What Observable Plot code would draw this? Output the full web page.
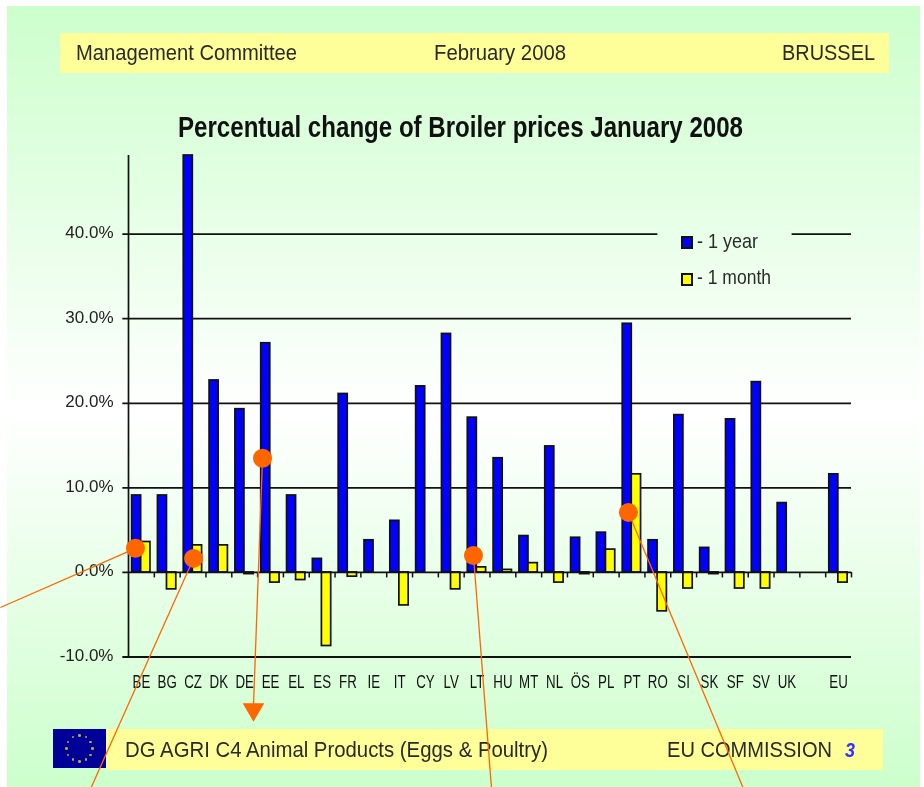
<!DOCTYPE html>
<html>
<head>
<meta charset="utf-8">
<script src="https://cdn.jsdelivr.net/npm/d3@7"></script>
<script src="https://cdn.jsdelivr.net/npm/@observablehq/plot@0.6"></script>
<style>
html,body{margin:0;padding:0;background:#fff;width:924px;height:787px;overflow:hidden;font-family:"Liberation Sans",Arial,sans-serif}
#slide{position:absolute;left:7px;top:6px;width:913px;height:781px;background:linear-gradient(#ccffcc 0%,#ffffff 52%,#ccffcc 100%)}
.band{position:absolute;background:#ffff99}
.t{position:absolute;white-space:nowrap;transform-origin:0 50%;color:#2a2a2a;filter:blur(.45px)}
#chart{position:absolute;left:0;top:0}
#chart svg{display:block;filter:blur(.45px)}
.key{position:absolute;width:8px;height:9px;border:2px solid #111;filter:blur(.4px)}
#flag{position:absolute;left:53px;top:729px;width:53px;height:39px;background:#000099}
.star{position:absolute;width:2.5px;height:2.5px;border-radius:50%;background:#b8a83a}
</style>
</head>
<body>
<div id="slide"></div>
<div class="band" style="left:60px;top:33px;width:829px;height:40px"></div>
<div class="band" style="left:106px;top:729px;width:777px;height:41px"></div>
<div id="flag"></div>
<div id="texts"></div>
<div class="key" style="left:681px;top:236px;background:#0000ff"></div>
<div class="key" style="left:681px;top:273px;background:#ffff00"></div>
<div id="chart"></div>
<script>
const codes = ["BE","BG","CZ","DK","DE","EE","EL","ES","FR","IE","IT","CY","LV","LT","HU","MT","NL","ÖS","PL","PT","RO","SI","SK","SF","SV","UK","","EU"];
const yearChange = [9.1,9.1,49.3,22.7,19.3,27.1,9.1,1.6,21.1,3.8,6.1,22,28.2,18.3,13.5,4.3,14.9,4.1,4.7,29.4,3.8,18.6,2.9,18.1,22.5,8.2,null,11.6];
const monthChange = [3.6,-2,3.2,3.2,-0.2,-1.2,-0.9,-8.7,-0.5,null,-3.9,null,-2,0.6,0.3,1.1,-1.2,-0.2,2.7,11.6,-4.6,-1.9,-0.2,-1.9,-1.9,null,null,-1.2];
const yTicks = [-10,0,10,20,30,40];
const title = "Percentual change of Broiler prices January 2008";

// annotation callouts, in chart units (category slot, percent)
const calloutFromX = [0.27,2.52,5.19,13.36,19.36];
const calloutFromY = [2.85,1.66,13.5,2.0,7.1];
const calloutToX = [-4.96,-1.47,4.84,14.06,23.82];
const calloutToY = [-4.15,-25.6,-15.8,-25.6,-25.6];

const rows = codes.map((c,i)=>({c,i,year:yearChange[i],month:monthChange[i]}));
const gridSegs = [
  {y:40,a:-0.22,b:20.5},{y:40,a:25.7,b:28},
  {y:30,a:-0.22,b:28},{y:20,a:-0.22,b:28},{y:10,a:-0.22,b:28},{y:-10,a:-0.22,b:28}
];

const plot = Plot.plot({
  width:924,height:787,
  marginLeft:128,marginRight:73,marginTop:155,marginBottom:130,
  style:{background:"transparent",fontFamily:'"Liberation Sans",Arial,sans-serif',color:"#222"},
  x:{domain:[0,28],range:[128,851]},
  y:{domain:[-10,49.3],range:[656.5,155]},
  marks:[
    Plot.ruleY(gridSegs,{y:"y",x1:"a",x2:"b",stroke:"#111",strokeWidth:1.8}),
    Plot.ruleX([0],{y1:-10,y2:49.3,stroke:"#111",strokeWidth:1.7}),
    Plot.rectY(rows.filter(d=>d.year!=null),{x1:d=>d.i+0.14,x2:d=>d.i+0.49,y1:0,y2:"year",fill:"#0000ff",stroke:"#111",strokeWidth:1.7}),
    Plot.rectY(rows.filter(d=>d.month!=null),{x1:d=>d.i+0.49,x2:d=>d.i+0.85,y1:0,y2:"month",fill:"#ffff00",stroke:"#111",strokeWidth:1.7}),
    Plot.ruleY([{y:0,a:-0.22,b:28}],{y:"y",x1:"a",x2:"b",stroke:"#111",strokeWidth:1.8}),
    Plot.ruleX(d3.range(1,29),{x:d=>d,y1:0,y2:-0.65,stroke:"#111",strokeWidth:1.5}),
    Plot.axisY({ticks:yTicks,tickSize:0,tickPadding:15,tickFormat:d=>d.toFixed(1)+"%",fontSize:17,dy:-1.5,label:null}),
    Plot.axisX({ticks:rows.map(d=>d.i+0.5),tickSize:0,tickPadding:18,tickFormat:d=>codes[d-0.5],fontSize:18,label:null,className:"xlabels"}),
    Plot.link(calloutFromX.map((x,i)=>i),{x1:i=>calloutFromX[i],y1:i=>calloutFromY[i],x2:i=>calloutToX[i],y2:i=>calloutToY[i],stroke:"#ff6600",strokeWidth:1.3}),
    Plot.dot(calloutFromX.map((x,i)=>i),{x:i=>calloutFromX[i],y:i=>calloutFromY[i],r:9.5,fill:"#ff6600",stroke:"none"}),
    Plot.dot([2],{x:i=>calloutToX[i],y:i=>calloutToY[i]-0.4,r:8,symbol:"triangle",rotate:180,fill:"#ff6600",stroke:"none"})
  ]
});
document.getElementById("chart").append(plot);

// narrow the category labels the way the source image does
plot.querySelectorAll(".xlabels text").forEach(t=>{
  t.setAttribute("transform",(t.getAttribute("transform")||"")+" scale(.74,1)");
  t.setAttribute("fill","#111");
});

const texts = [
  {s:"Management Committee",x:76,y:53,w:221,f:22},
  {s:"February 2008",x:434,y:53,w:132,f:22},
  {s:"BRUSSEL",x:782,y:53,w:93,f:22},
  {s:title,x:178,y:127,w:565,f:30,b:true,c:"#111"},
  {s:"- 1 year",x:697,y:241,w:61,f:21},
  {s:"- 1 month",x:697,y:277,w:74,f:21},
  {s:"DG AGRI C4 Animal Products (Eggs & Poultry)",x:125,y:750,w:423,f:22},
  {s:"EU COMMISSION",x:667,y:750,w:165,f:22},
  {s:"3",x:845,y:750,w:10,f:21,b:true,i:true,c:"#3333ff"}
];
const box = document.getElementById("texts");
texts.forEach(d=>{
  const e=document.createElement("div");
  e.className="t";
  e.textContent=d.s;
  e.style.left=d.x+"px";
  e.style.top=(d.y-d.f*0.6)+"px";
  e.style.fontSize=d.f+"px";
  e.style.lineHeight=(d.f*1.2)+"px";
  if(d.b)e.style.fontWeight="bold";
  if(d.i)e.style.fontStyle="italic";
  if(d.c)e.style.color=d.c;
  box.append(e);
  e.style.transform=`scaleX(${d.w/e.getBoundingClientRect().width})`;
});

const flag=document.getElementById("flag");
d3.range(12).forEach(i=>{
  const a=i*Math.PI/6, s=document.createElement("span");
  s.className="star";
  s.style.left=(25.2+13*Math.sin(a))+"px";
  s.style.top=(18.2-13*Math.cos(a))+"px";
  flag.append(s);
});
</script>
</body>
</html>
